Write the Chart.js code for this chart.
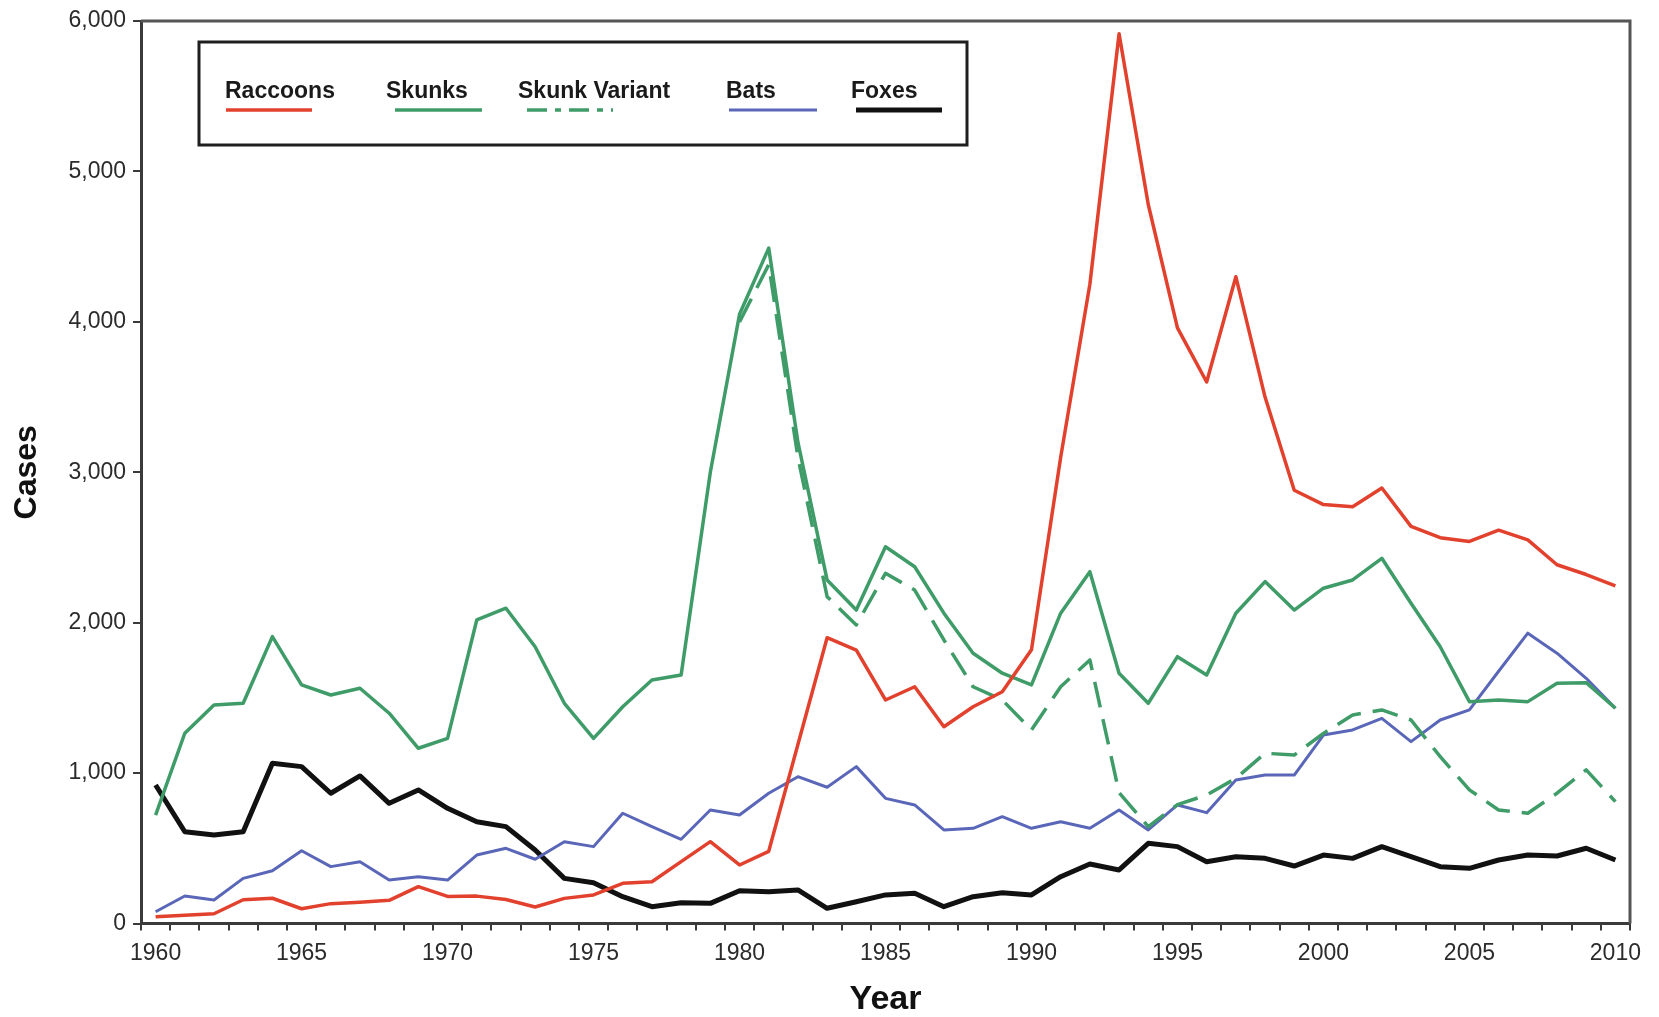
<!DOCTYPE html>
<html>
<head>
<meta charset="utf-8">
<title>Rabies cases by animal, 1960-2010</title>
<script src="https://cdn.jsdelivr.net/npm/chart.js@4.4.1/dist/chart.umd.min.js"></script>
<style>
    html, body { margin: 0; padding: 0; background: #fff; }
    #chart { display: block; }
</style>
</head>
<body>
<canvas id="chart" width="1659" height="1017"></canvas>
<script>
const years = [
    1960, 1961, 1962, 1963, 1964, 1965, 1966, 1967, 1968, 1969,
    1970, 1971, 1972, 1973, 1974, 1975, 1976, 1977, 1978, 1979,
    1980, 1981, 1982, 1983, 1984, 1985, 1986, 1987, 1988, 1989,
    1990, 1991, 1992, 1993, 1994, 1995, 1996, 1997, 1998, 1999,
    2000, 2001, 2002, 2003, 2004, 2005, 2006, 2007, 2008, 2009,
    2010
];

const raccoons = [
    45, 55, 65, 158, 168, 98, 132, 142, 154, 245,
    180, 182, 160, 110, 167, 190, 267, 278, 411, 544,
    389, 480, 1190, 1900, 1818, 1486, 1574, 1308, 1441, 1541,
    1820, 3100, 4250, 5915, 4780, 3960, 3600, 4300, 3500, 2880,
    2785, 2770, 2895, 2640, 2565, 2540, 2615, 2550, 2385, 2320,
    2245
];

const skunks = [
    721, 1265, 1453, 1464, 1907, 1586, 1519, 1564, 1398, 1165,
    1231, 2018, 2096, 1840, 1464, 1231, 1441, 1619, 1652, 3000,
    4050, 4490, 3200, 2284, 2084, 2505, 2372, 2063, 1797, 1664,
    1586, 2063, 2339, 1664, 1464, 1774, 1652, 2063, 2273, 2084,
    2229, 2284, 2428, 2129, 1840, 1475, 1486, 1475, 1597, 1601,
    1431
];

// variant series only reported from 1980 on
const skunkVariant = [
    null, null, null, null, null, null, null, null, null, null,
    null, null, null, null, null, null, null, null, null, null,
    4000, 4380, 3100, 2173, 1985, 2328, 2217, 1885, 1574, 1486,
    1287, 1574, 1752, 870, 644, 790, 854, 965, 1132, 1120,
    1264, 1386, 1420, 1353, 1109, 888, 755, 733, 866, 1021,
    810
];

const bats = [
    78, 183, 156, 300, 351, 484, 378, 411, 289, 311,
    289, 455, 500, 427, 544, 511, 733, 644, 560, 755,
    721, 866, 976, 906, 1043, 832, 788, 622, 633, 710,
    633, 677, 633, 755, 622, 788, 737, 954, 987, 987,
    1253, 1287, 1364, 1209, 1353, 1420, 1677, 1930, 1797, 1630,
    1431
];

const foxes = [
    921, 610, 588, 610, 1065, 1043, 866, 981, 799, 888,
    766, 677, 644, 489, 300, 271, 178, 112, 138, 134,
    218, 211, 223, 101, 145, 190, 201, 112, 178, 205,
    190, 311, 396, 356, 533, 511, 411, 444, 433, 382,
    455, 433, 511, 444, 378, 367, 422, 455, 449, 500,
    422
];

const yTicks = [0, 1000, 2000, 3000, 4000, 5000, 6000];

const FONT = "'Liberation Sans', Arial, Helvetica, sans-serif";
const AXIS_COLOR = '#3a3a3a';

// frame on the top and right side of the plot area
const framePlugin = {
    id: 'frame',
    afterDraw(chart) {
        const { ctx, chartArea: a } = chart;
        ctx.save();
        ctx.strokeStyle = '#555';
        ctx.lineWidth = 3;
        ctx.beginPath();
        ctx.moveTo(a.left, a.top);
        ctx.lineTo(a.right, a.top);
        ctx.lineTo(a.right, a.bottom);
        ctx.stroke();
        ctx.restore();
    }
};

// boxed legend with the label above its line sample
const boxLegend = {
    id: 'boxLegend',
    afterDraw(chart) {
        const { ctx, chartArea: a } = chart;
        const box = { x: a.left + 58, y: a.top + 21, w: 768, h: 103 };
        const textX = [26, 187, 319, 527, 652];
        const sample = [[27, 113], [196, 283], [328, 414], [530, 618], [657, 743]];

        ctx.save();
        ctx.fillStyle = '#fff';
        ctx.fillRect(box.x, box.y, box.w, box.h);
        ctx.strokeStyle = '#1e1e1e';
        ctx.lineWidth = 3;
        ctx.strokeRect(box.x, box.y, box.w, box.h);

        chart.data.datasets.forEach((ds, i) => {
            ctx.fillStyle = '#1a1a1a';
            ctx.font = 'bold 23px ' + FONT;
            ctx.textAlign = 'left';
            ctx.textBaseline = 'alphabetic';
            ctx.fillText(ds.label, box.x + textX[i], box.y + 56);

            ctx.strokeStyle = ds.borderColor;
            ctx.lineWidth = ds.borderWidth;
            ctx.setLineDash(ds.borderDash ? [20, 8, 6, 8] : []);
            ctx.beginPath();
            ctx.moveTo(box.x + sample[i][0], box.y + 68);
            ctx.lineTo(box.x + sample[i][1], box.y + 68);
            ctx.stroke();
        });
        ctx.restore();
    }
};

function lineSet(label, data, color, width, dash) {
    return {
        label: label,
        data: data,
        borderColor: color,
        backgroundColor: color,
        borderWidth: width,
        borderDash: dash,
        pointRadius: 0,
        tension: 0,
        spanGaps: false,
        borderJoinStyle: 'round',
        fill: false
    };
}

new Chart(document.getElementById('chart'), {
    type: 'line',
    data: {
        labels: years,
        datasets: [
            lineSet('Raccoons', raccoons, '#e2412e', 3.5),
            lineSet('Skunks', skunks, '#3f9c69', 3.5),
            lineSet('Skunk Variant', skunkVariant, '#3f9c69', 3.5, [26, 12]),
            lineSet('Bats', bats, '#5a66b8', 3),
            lineSet('Foxes', foxes, '#111111', 5)
        ]
    },
    options: {
        responsive: false,
        animation: false,
        layout: { padding: { left: 0, right: 29, top: 21, bottom: 0 } },
        plugins: {
            legend: { display: false },
            tooltip: { enabled: false }
        },
        scales: {
            x: {
                type: 'category',
                offset: true,
                afterFit: (scale) => { scale.height = 93.5; },
                border: { display: true, color: AXIS_COLOR, width: 3 },
                grid: {
                    offset: true,
                    drawOnChartArea: false,
                    drawTicks: true,
                    tickLength: 7,
                    color: AXIS_COLOR,
                    lineWidth: 2
                },
                ticks: {
                    autoSkip: false,
                    maxRotation: 0,
                    minRotation: 0,
                    padding: 9,
                    color: '#2b2b2b',
                    font: { family: FONT, size: 23 },
                    callback: function(value, index) {
                        const yr = years[index];
                        return yr % 5 === 0 ? String(yr) : '';
                    }
                },
                title: {
                    display: true,
                    text: 'Year',
                    color: '#111',
                    padding: { top: 0, bottom: 0 },
                    font: { family: FONT, size: 34, weight: 'bold', lineHeight: 1 }
                }
            },
            y: {
                min: yTicks[0],
                max: yTicks[yTicks.length - 1],
                afterFit: (scale) => { scale.width = 141; },
                afterBuildTicks: (scale) => {
                    scale.ticks = yTicks.map(v => ({ value: v }));
                },
                border: { display: true, color: AXIS_COLOR, width: 3 },
                grid: {
                    drawOnChartArea: false,
                    drawTicks: true,
                    tickLength: 8,
                    color: AXIS_COLOR,
                    lineWidth: 2
                },
                ticks: {
                    padding: 7,
                    color: '#2b2b2b',
                    font: { family: FONT, size: 23 },
                    callback: (value) => Number(value).toLocaleString('en-US')
                },
                title: {
                    display: true,
                    text: 'Cases',
                    color: '#111',
                    padding: { top: 8, bottom: 0 },
                    font: { family: FONT, size: 32, weight: 'bold', lineHeight: 1.2 }
                }
            }
        }
    },
    plugins: [framePlugin, boxLegend]
});
</script>
</body>
</html>
